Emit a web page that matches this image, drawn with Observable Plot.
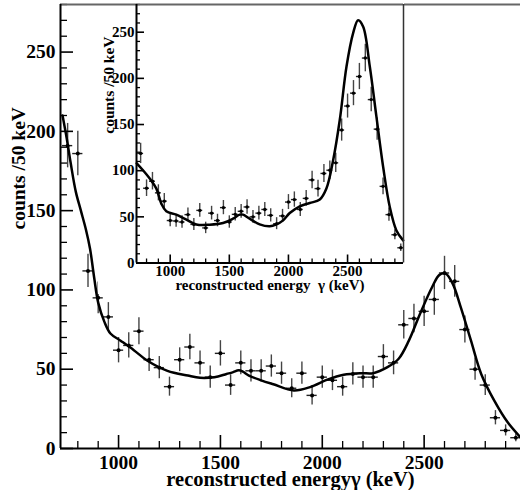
<!DOCTYPE html>
<html>
<head>
<meta charset="utf-8">
<script src="https://cdn.jsdelivr.net/npm/d3@7"></script>
<script src="https://cdn.jsdelivr.net/npm/@observablehq/plot@0.6"></script>
<style>
  html, body { margin: 0; padding: 0; background: #fff; }
  #wrap { position: relative; width: 520px; height: 490px; overflow: hidden; }
  #inset { position: absolute; left: 98px; top: 0px; }
  #main { position: absolute; left: 0; top: 0; }
  svg text { font-family: "Liberation Serif", serif !important; }
</style>
</head>
<body>
<div id="wrap"><div id="main"></div><div id="inset"></div></div>
<script>
// ---------- data ----------
const energies = [750,800,850,900,950,1000,1050,1100,1150,1200,1250,1300,1350,1400,1450,1500,1550,1600,1650,1700,1750,1800,1850,1900,1950,2000,2050,2100,2150,2200,2250,2300,2350,2400,2450,2500,2550,2600,2650,2700,2750,2800,2850,2900,2950];
const halfBin = 25;

// main panel measured counts and errors
const mainCounts = [191,186,112,95,83,62,65,74,56,51,39,56,64,54,45,60,40,54,49,49,52,47.5,38,47.5,33.5,45,43,39,47,45,45,58,54,78,82,86.5,94,110.7,105.4,75,50,40,19.4,11.4,6.8];
const mainErrors = [14,14,10.5,10,9,8,8,8.5,7.5,7,6,7.5,8,7.5,7,8,6.5,7.5,7,7,7,7,6,7,6,7,6.5,6,7,7,7,7.5,7.5,9,9,9.5,10,10.5,10,8.5,7,6.5,4.5,3.5,2.5];

// main panel fitted curve
const mainCurveE = [725,745,765,790,815,840,860,880,900,930,960,1010,1075,1140,1240,1340,1400,1470,1530,1560,1590,1610,1640,1700,1760,1860,1940,2025,2105,2190,2250,2320,2375,2425,2480,2540,2575,2605,2640,2680,2730,2780,2845,2910,2973];
const mainCurveV = [210,196,180,162,150,138,126,108,92,80,72.5,68,62,55.5,49,46,44.6,45,47,48,49.3,48.5,46,43,40.5,36.6,38.7,43.4,46.5,47.5,47.5,51.3,56.6,68,85,102,109.5,110.3,104,89,68,47,30,16.5,7];

// inset measured counts and errors
const insetCounts = [118.7,81,88.6,76,67,46,45.5,44.4,52.4,41.8,57,38,54,46,60,44.4,52.7,56,60.7,50,54,58,51.6,42.6,51,66,68.7,58,70,90,80.6,97,100.5,108.5,144,170,184,202,222,177,145,83,52.4,30.6,16.5];
const insetErrors = [11,9,9.5,8.7,8.2,6.8,6.7,6.7,7.2,6.5,7.5,6.2,7.4,6.8,7.7,6.7,7.3,7.5,7.8,7,7.4,7.6,7.2,6.5,7.1,8.1,8.3,7.6,8.4,9.5,9,9.8,10,10.4,12,13,13.6,14.2,14.9,13.3,12,9.1,7.2,5.5,4];

// inset fitted curve
const insetCurveE = [717,770,827,883,925,967,1052,1137,1221,1334,1447,1531,1588,1616,1672,1757,1842,1898,1955,2011,2096,2180,2265,2321,2378,2434,2491,2547,2589,2632,2688,2744,2801,2857,2913,2970];
const insetCurveV = [108,100.5,91.5,80.6,64.3,56,52.4,47,41.8,41.5,43.3,48,52.4,52.4,48,41.8,39.7,41.8,46.2,54.1,61.4,65,68.7,80.6,111.4,154.9,212.8,249,263,256,212.8,158.5,104,60.7,35.3,24.5];

// axes
const xDomain = [715, 2973];
const yDomain = [0, 280];
const xMajor = [1000,1500,2000,2500];
const xMinor = [800,900,1100,1200,1300,1400,1600,1700,1800,1900,2100,2200,2300,2400,2600,2700,2800,2900];
const yMajor = [0,50,100,150,200,250];
const yMinor = [10,20,30,40,60,70,80,90,110,120,130,140,160,170,180,190,210,220,230,240,260,270,280];
const xTitleMain = "reconstructed energy\u03b3 (keV)";
const xTitleInset = "reconstructed energy  \u03b3 (keV)";
const yTitle = "counts /50 keV";

// ---------- build ----------
const rows = (counts, errs) => energies.map((e, i) => ({e, v: counts[i], err: errs[i]}));
const curve = (E, V) => E.map((e, i) => ({e, v: V[i]}));
const FONT = "Liberation Serif";

function panel(cfg) {
  const data = rows(cfg.counts, cfg.errors);
  const pw = cfg.width - cfg.ml - cfg.mr;
  const ph = cfg.height - cfg.mt - cfg.mb;
  const txt = {fontFamily: FONT, fontWeight: "bold", fill: "#000"};
  return Plot.plot({
    width: cfg.width, height: cfg.height,
    marginLeft: cfg.ml, marginRight: cfg.mr, marginTop: cfg.mt, marginBottom: cfg.mb,
    x: {domain: xDomain, axis: null},
    y: {domain: yDomain, axis: null},
    style: {fontFamily: FONT, background: "#fff", overflow: "visible"},
    marks: [
      Plot.ruleX(data, {x: "e", y1: d => d.v - d.err, y2: d => d.v + d.err, stroke: "#444", strokeWidth: 1.4}),
      Plot.ruleY(data, {y: "v", x1: d => d.e - halfBin, x2: d => d.e + halfBin, stroke: "#222", strokeWidth: 1.4}),
      Plot.dot(data, {x: "e", y: "v", r: cfg.r, fill: "#000", stroke: "none"}),
      Plot.line(curve(cfg.curveE, cfg.curveV), {x: "e", y: "v", curve: "catmull-rom", stroke: "#000", strokeWidth: cfg.lw}),
      // ticks (inward)
      Plot.tickY(yMajor, {y: d => d, insetRight: pw - cfg.major, stroke: "#000", strokeWidth: 1.6}),
      Plot.tickY(yMinor, {y: d => d, insetRight: pw - cfg.minor, stroke: "#000", strokeWidth: 1.3}),
      Plot.tickX(xMajor, {x: d => d, insetTop: ph - cfg.major, stroke: "#000", strokeWidth: 1.6}),
      Plot.tickX(xMinor, {x: d => d, insetTop: ph - cfg.minor, stroke: "#000", strokeWidth: 1.3}),
      // frame lines (top line of the outer pad runs across the whole width)
      Plot.ruleY([yDomain[1]], {stroke: "#666", strokeWidth: 2, insetLeft: -cfg.topExtend}),
      cfg.rightLine ? Plot.ruleX([xDomain[1]], {stroke: "#333", strokeWidth: 1.5}) : null,
      Plot.ruleX([xDomain[0]], {stroke: "#000", strokeWidth: 2}),
      Plot.ruleY([0], {stroke: "#000", strokeWidth: 2}),
      // tick labels
      Plot.text(yMajor, {x: xDomain[0], y: d => d, text: d => String(d), textAnchor: "end", dx: -cfg.ypad, fontSize: cfg.tickFont, ...txt}),
      Plot.text(xMajor, {x: d => d, y: 0, text: d => String(d), lineAnchor: "middle", dy: cfg.xpad, fontSize: cfg.tickFont, ...txt}),
      // titles
      Plot.text([cfg.xTitle], {frameAnchor: "bottom", text: d => d, lineAnchor: "middle", dy: cfg.xTitleDy, fontSize: cfg.titleFont, ...txt}),
      Plot.text([yTitle], {frameAnchor: "left", text: d => d, rotate: -90, lineAnchor: "middle", dx: cfg.yTitleDx, dy: cfg.yTitleDy, fontSize: cfg.yTitleFont, ...txt})
    ]
  });
}

const mainChart = panel({
  width: 520, height: 490, ml: 60, mr: 0, mt: 4, mb: 42,
  counts: mainCounts, errors: mainErrors, curveE: mainCurveE, curveV: mainCurveV,
  r: 2, lw: 2.5, major: 13, minor: 7, tickFont: 19.5, titleFont: 20.5, yTitleFont: 19.5,
  ypad: 5, xpad: 14, xTitleDy: 31, yTitleDx: -42, yTitleDy: 3, xTitle: xTitleMain, rightLine: false, topExtend: 0
});
const insetChart = panel({
  width: 306, height: 294, ml: 38, mr: 1, mt: 4, mb: 31.5,
  counts: insetCounts, errors: insetErrors, curveE: insetCurveE, curveV: insetCurveV,
  r: 1.7, lw: 2.5, major: 8, minor: 4, tickFont: 15, titleFont: 15, yTitleFont: 15.5,
  ypad: 2, xpad: 8.5, xTitleDy: 22.5, yTitleDx: -27, yTitleDy: 0, xTitle: xTitleInset, rightLine: true, topExtend: 38
});
document.getElementById("main").appendChild(mainChart);
document.getElementById("inset").appendChild(insetChart);
</script>
</body>
</html>
